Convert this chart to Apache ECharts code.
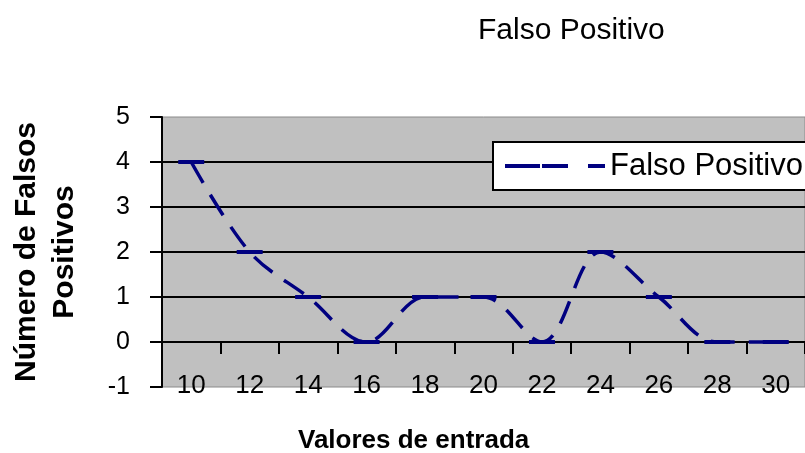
<!DOCTYPE html>
<html>
<head>
<meta charset="utf-8">
<script src="https://cdn.jsdelivr.net/npm/echarts@6/dist/echarts.min.js"></script>
<style>
  html, body { margin: 0; padding: 0; background: #fff; }
  #main { width: 805px; height: 453px; }
</style>
</head>
<body>
<div id="main"></div>
<script>
// 数据
const categories = ["10", "12", "14", "16", "18", "20", "22", "24", "26", "28", "30"];
const falsoPositivo = [4, 2, 1, 0, 1, 1, 0, 2, 1, 0, 0];
const yTicks = { min: -1, max: 5, interval: 1 };

const myChart = echarts.init(document.getElementById("main"));
const fontName = "Liberation Sans";

let option = {
  backgroundColor: "#fff",
  animation: false,
  title: [
    {
      text: "Falso Positivo",
      left: 473,
      top: 11,
      textStyle: { fontFamily: fontName, fontSize: 30, fontWeight: "normal", color: "#000" },
    },
    {
      // 横轴名称
      text: "Valores de entrada",
      left: 298,
      top: 428,
      padding: 0,
      textStyle: { fontFamily: fontName, fontSize: 26, fontWeight: "bold", color: "#000" },
    },
  ],
  legend: {
    left: 493,
    top: 142,
    padding: [7, 40, 7, 12],
    backgroundColor: "#fff",
    borderColor: "#000",
    borderWidth: 2,
    borderRadius: 0,
    itemWidth: 100,
    itemHeight: 4,
    itemGap: 4,
    textStyle: { fontFamily: fontName, fontSize: 31, color: "#000", lineHeight: 34 },
    data: [
      {
        name: "Falso Positivo",
        // 图例：长虚线 + 短划
        icon: "path://M0,0h35v4h-35z M37,0h26v4h-26z M83,0h17v4h-17z",
        itemStyle: { color: "#000080" },
      },
    ],
  },
  grid: {
    show: true,
    left: 155,
    top: 117,
    width: 652,
    height: 270,
    backgroundColor: "#c0c0c0",
    borderColor: "#8a8a8a",
    borderWidth: 1,
  },
  xAxis: {
    type: "category",
    data: categories,
    boundaryGap: true,
    axisLine: { onZero: true, lineStyle: { color: "#000", width: 2 } },
    axisTick: { show: true, length: 12, interval: 0, lineStyle: { color: "#000", width: 2 } },
    axisLabel: {
      interval: 0,
      margin: -14,
      fontFamily: fontName,
      fontSize: 26,
      color: "#000",
    },
    splitLine: { show: false },
  },
  yAxis: {
    type: "value",
    min: yTicks.min,
    max: yTicks.max,
    interval: yTicks.interval,
    name: "Número de Falsos\nPositivos",
    nameLocation: "middle",
    nameRotate: 90,
    nameGap: 78,
    nameTextStyle: {
      fontFamily: fontName,
      fontSize: 30,
      fontWeight: "bold",
      color: "#000",
      lineHeight: 38,
    },
    axisLine: { show: true, lineStyle: { color: "#000", width: 2 } },
    axisTick: { show: true, length: 12, lineStyle: { color: "#000", width: 2 } },
    axisLabel: { margin: 32, fontFamily: fontName, fontSize: 25, color: "#000" },
    splitLine: {
      show: true,
      showMinLine: false,
      showMaxLine: false,
      lineStyle: { color: "#000", width: 2 },
    },
  },
  series: [
    {
      type: "line",
      name: "Falso Positivo",
      data: falsoPositivo,
      smooth: 0.35,
      symbol: "rect",
      symbolSize: [26, 4],
      showSymbol: true,
      itemStyle: { color: "#000080" },
      lineStyle: { color: "#000080", width: 3.5, type: [24, 14] },
    },
  ],
};
myChart.setOption(option);
</script>
</body>
</html>
